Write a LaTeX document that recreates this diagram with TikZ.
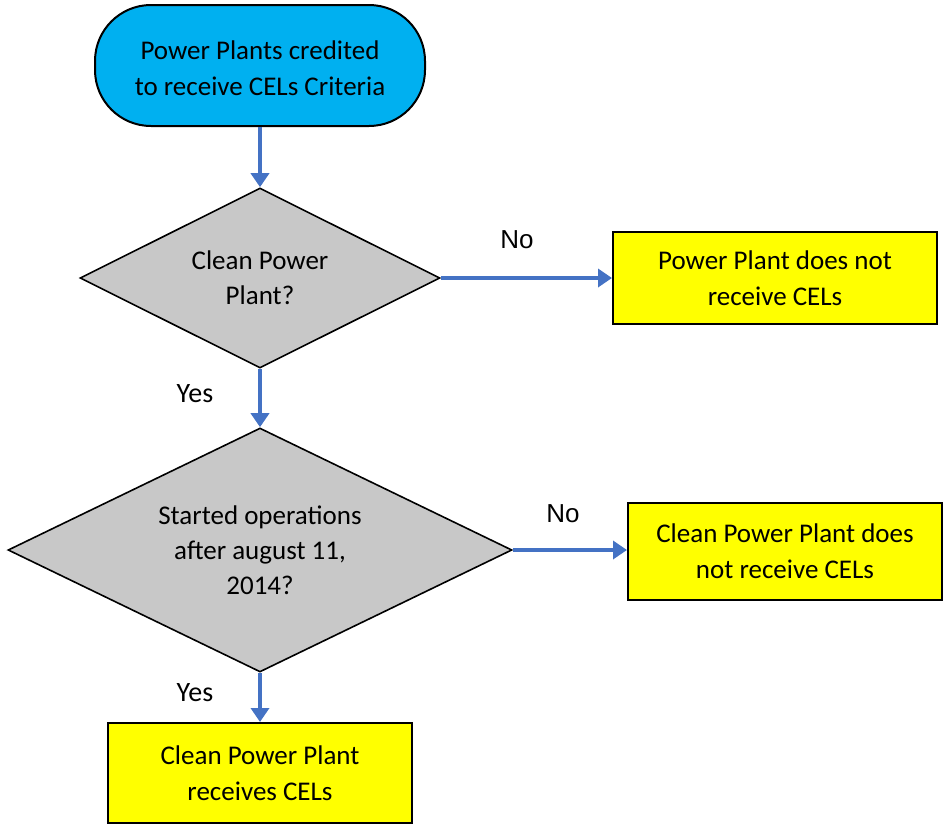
\documentclass[tikz,border=0pt]{standalone}
\usepackage{fontspec}
\setmainfont{Carlito}
\newfontfamily\arialfont{Liberation Sans}
\usetikzlibrary{positioning,shapes.geometric,arrows.meta}

\definecolor{startblue}{HTML}{00B0F0}
\definecolor{decgray}{HTML}{C8C8C8}
\definecolor{flowblue}{HTML}{4472C4}
\definecolor{resyellow}{HTML}{FFFF00}

\tikzset{
  startbox/.style={draw=black, line width=2pt, fill=startblue, rounded corners=56pt,
    minimum width=330pt, minimum height=121pt},
  decision/.style={diamond, draw=black, line width=1.6pt, fill=decgray, inner sep=0pt},
  question/.style={align=center, font=\fontsize{27}{35}\selectfont},
  result/.style={rectangle, draw=black, line width=2pt, fill=resyellow, inner sep=0pt,
    align=center, font=\fontsize{27}{36}\selectfont},
  flow/.style={draw=flowblue, line width=4pt, -{Triangle[width=18pt,length=14pt]}},
  answer/.style={font=\fontsize{28}{30}\selectfont}
}

\begin{document}
\begin{tikzpicture}[x=1pt, y=-1pt]
\useasboundingbox (0,0) rectangle (943,825);

\node[startbox] (start) at (260,65.5) {};
\node[question, font=\fontsize{27}{36}\selectfont] (starttext) at (260,68) {Power Plants credited\\to receive CELs Criteria};
\node[decision, minimum width=360pt, minimum height=180pt] (clean) at (260,278) {};
\node[question] (cleantext) at (clean.center) {Clean Power\\Plant?};
\node[result, minimum width=324pt, minimum height=92pt] (nocel) at (775,278) {Power Plant does not\\receive CELs};
\node[decision, minimum width=504pt, minimum height=244pt] (started) at (260,550) {};
\node[question] (startedtext) at (started.center) {Started operations\\after august 11,\\2014?};
\node[result, minimum width=314pt, minimum height=97pt] (oldplant) at (785,551.5) {Clean Power Plant does\\not receive CELs};
\node[result, minimum width=304pt, minimum height=100pt] (getcel) at (260,773) {Clean Power Plant\\receives CELs};

\draw[flow] (start) -- (clean);
\draw[flow] (clean) -- (nocel);
\draw[flow] (clean) -- (started);
\draw[flow] (started.east) -- (oldplant.west |- started.east);
\draw[flow] (started) -- (getcel);

\node[answer, font=\arialfont\fontsize{26}{30}\selectfont] (no1) at (517,240) {No};
\node[answer, font=\arialfont\fontsize{26}{30}\selectfont] (no2) at (563,514) {No};
\node[answer] (yes1) at (195,394) {Yes};
\node[answer] (yes2) at (195,693) {Yes};
\end{tikzpicture}
\end{document}
